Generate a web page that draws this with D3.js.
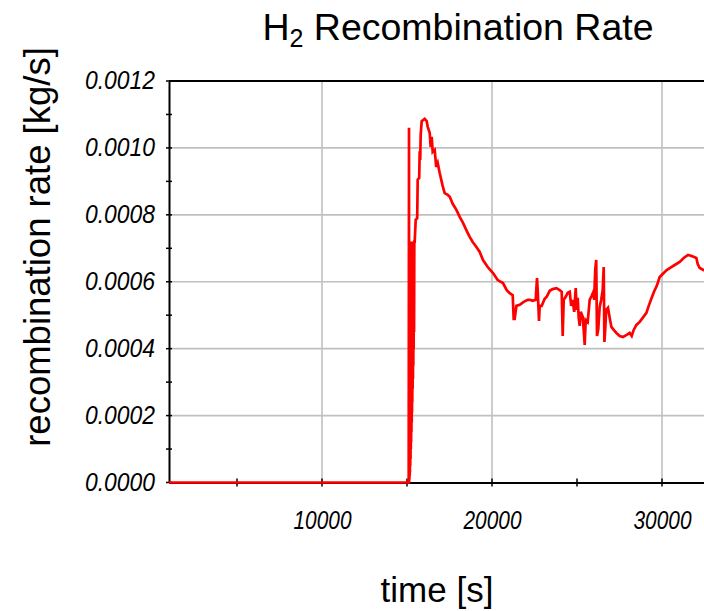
<!DOCTYPE html>
<html>
<head>
<meta charset="utf-8">
<script src="https://cdn.jsdelivr.net/npm/d3@7"></script>
<style>
  html, body { margin: 0; padding: 0; background: #fff; }
  svg { display: block; }
  text { font-family: "Liberation Sans", Arial, sans-serif; }
</style>
</head>
<body>
<div id="chart"></div>
<script>
// ---- data ----
const times = [
  1000, 5000, 10000, 15100,
  15118, 15125, 15135, 15142, 15150, 15158, 15165, 15172, 15180, 15190, 15200, 15208,
  15215, 15225, 15235, 15242, 15250, 15260, 15270, 15278, 15285, 15295, 15305, 15312,
  15320, 15332, 15345, 15352, 15360, 15372, 15385, 15392, 15400, 15415, 15430, 15453,
  15512, 15600, 15629, 15718, 15747, 15776, 15806, 15865, 16041, 16159, 16218, 16335,
  16394, 16453, 16512, 16629, 16718, 16806, 16924, 17100, 17218, 17394, 17512, 17688,
  17906, 18100, 18294, 18512, 18688, 18865, 19082, 19276, 19471, 19747, 20059, 20335,
  20647, 20865, 21041, 21218, 21276, 21335, 21435, 21629, 21865, 22100, 22218, 22394,
  22571, 22647, 22688, 22765, 22806, 22924, 23100, 23218, 23394, 23571, 23788, 23982,
  24100, 24159, 24218, 24335, 24453, 24571, 24659, 24747, 24835, 24924, 24982, 25041,
  25100, 25159, 25218, 25335, 25394, 25453, 25512, 25629, 25747, 25865, 25941, 26012,
  26071, 26130, 26176, 26247, 26335, 26424, 26512, 26571, 26612, 26659, 26718, 26824,
  26924, 27024, 27159, 27318, 27512, 27706, 27924, 28100, 28218, 28335, 28494, 28688,
  28865, 29082, 29218, 29394, 29571, 29688, 29865, 30100, 30276, 30453, 30747, 31041,
  31276, 31529, 31747, 32023, 32100, 32218, 32453, 32800
];
const rates = [
  0, 0, 0, 0,
  0.00106, 0, 0.00072, 0.00001, 0.00071, 0.00002, 0.00072, 0.00003, 0.00071, 0.00005, 0.00072, 0.00007,
  0.00071, 0.0001, 0.00072, 0.00012, 0.00071, 0.00015, 0.00072, 0.00018, 0.00071, 0.00021, 0.00072, 0.00024,
  0.00071, 0.00028, 0.00072, 0.00031, 0.00071, 0.00035, 0.00072, 0.0004, 0.00071, 0.00045, 0.00072, 0.00072,
  0.000785, 0.00079, 0.000905, 0.00091, 0.00099, 0.000964, 0.00104, 0.00108, 0.001087, 0.00108, 0.001063, 0.001045,
  0.001003, 0.001033, 0.000988, 0.000994, 0.000943, 0.000955, 0.000925, 0.000886, 0.000865, 0.00086, 0.000854, 0.000833,
  0.000815, 0.000794, 0.000776, 0.000752, 0.000734, 0.000719, 0.000704, 0.000689, 0.000665, 0.000644, 0.000626, 0.000605,
  0.000596, 0.000575, 0.000566, 0.00056, 0.000489, 0.000489, 0.000528, 0.000531, 0.00054, 0.000546, 0.000546, 0.000543,
  0.000546, 0.000611, 0.000575, 0.000483, 0.000528, 0.000528, 0.000549, 0.000555, 0.000573, 0.000578, 0.000581, 0.000575,
  0.00057, 0.000438, 0.000546, 0.000555, 0.000567, 0.00057, 0.000528, 0.000546, 0.00051, 0.000581, 0.000516, 0.000552,
  0.000492, 0.000468, 0.00051, 0.000495, 0.000456, 0.000411, 0.000486, 0.00048, 0.000546, 0.000558, 0.000567, 0.000546,
  0.000635, 0.000665, 0.000438, 0.000456, 0.000525, 0.000546, 0.000575, 0.000644, 0.00042, 0.000456, 0.000516, 0.000522,
  0.000492, 0.000465, 0.000456, 0.000447, 0.000438, 0.000435, 0.000441, 0.000447, 0.000438, 0.000456, 0.000471, 0.00048,
  0.000492, 0.000507, 0.000528, 0.000552, 0.000575, 0.000587, 0.000614, 0.000626, 0.000635, 0.000641, 0.00065, 0.000659,
  0.000671, 0.00068, 0.000677, 0.000671, 0.000653, 0.000641, 0.000635, 0.000635
];
const yTickValues = [0, 0.0002, 0.0004, 0.0006, 0.0008, 0.0010, 0.0012];
const yTickLabels = ["0.0000", "0.0002", "0.0004", "0.0006", "0.0008", "0.0010", "0.0012"];
const yMinorTicks = [0.0001, 0.0003, 0.0005, 0.0007, 0.0009, 0.0011];
const xTickValues = [10000, 20000, 30000];
const xTickLabels = ["10000", "20000", "30000"];
const xMinorTicks = [5000, 15000, 25000];
const titleMain = "H";
const titleSub = "2";
const titleRest = " Recombination Rate";
const xTitle = "time [s]";
const yTitle = "recombination rate [kg/s]";

// ---- chart ----
const W = 704, H = 611;
const svg = d3.select("#chart").append("svg").attr("width", W).attr("height", H);

const x = d3.scaleLinear().domain([1000, 35000]).range([169, 747]);
const y = d3.scaleLinear().domain([0, 0.0012]).range([482.5, 81]);

// gridlines
const grid = svg.append("g");
grid.selectAll("line.hg").data(yTickValues.filter(v => v > 0 && v < 0.0012)).join("line")
  .attr("x1", x(1000)).attr("x2", x(35000))
  .attr("y1", d => y(d)).attr("y2", d => y(d))
  .attr("stroke", "#c0c0c0").attr("stroke-width", 1.6);
grid.selectAll("line.vg").data(xTickValues).join("line")
  .attr("x1", d => x(d)).attr("x2", d => x(d))
  .attr("y1", y(0)).attr("y2", y(0.0012))
  .attr("stroke", "#c0c0c0").attr("stroke-width", 1.6);

// plot border (top + right)
svg.append("line").attr("x1", x(1000)).attr("x2", x(35000))
  .attr("y1", y(0.0012)).attr("y2", y(0.0012)).attr("stroke", "#000").attr("stroke-width", 2);
svg.append("line").attr("x1", x(35000)).attr("x2", x(35000))
  .attr("y1", y(0.0012)).attr("y2", y(0)).attr("stroke", "#000").attr("stroke-width", 2);

// y axis
const yAxis = d3.axisLeft(y).tickValues(yTickValues).tickSize(0).tickPadding(14)
  .tickFormat((d, i) => yTickLabels[i]);
const gy = svg.append("g").attr("transform", `translate(${x(1000)},0)`).call(yAxis);
gy.select(".domain").attr("stroke", "#000").attr("stroke-width", 2);
gy.selectAll("text").attr("font-size", 25).attr("font-style", "italic")
  .attr("textLength", 70).attr("lengthAdjust", "spacingAndGlyphs").attr("fill", "#000")
  .attr("dy", "0.3em")
  .attr("font-family", "'Liberation Sans', Arial, sans-serif");
svg.append("g").selectAll("line").data(yTickValues.concat(yMinorTicks)).join("line")
  .attr("x1", x(1000) - 3).attr("x2", x(1000) + 3)
  .attr("y1", d => y(d)).attr("y2", d => y(d))
  .attr("stroke", "#000").attr("stroke-width", 1.5);

// x axis
const xAxis = d3.axisBottom(x).tickValues(xTickValues).tickSize(0).tickPadding(29)
  .tickFormat((d, i) => xTickLabels[i]);
const gx = svg.append("g").attr("transform", `translate(0,${y(0)})`).call(xAxis);
gx.select(".domain").attr("stroke", "#000").attr("stroke-width", 2);
gx.selectAll("text").attr("font-size", 25).attr("font-style", "italic")
  .attr("textLength", 58).attr("lengthAdjust", "spacingAndGlyphs").attr("fill", "#000")
  .attr("font-family", "'Liberation Sans', Arial, sans-serif");
svg.append("g").selectAll("line").data(xTickValues.concat(xMinorTicks)).join("line")
  .attr("x1", d => x(d)).attr("x2", d => x(d))
  .attr("y1", y(0) - 4).attr("y2", y(0) + 4)
  .attr("stroke", "#000").attr("stroke-width", 1.5);

// data line
const line = d3.line().x((d, i) => x(times[i])).y((d, i) => y(rates[i]));
svg.append("path").datum(rates)
  .attr("d", line)
  .attr("fill", "none").attr("stroke", "#ff0000").attr("stroke-width", 2.7)
  .attr("stroke-linejoin", "miter");

// titles
const t = svg.append("text").attr("x", 458).attr("y", 40).attr("text-anchor", "middle")
  .attr("font-size", 37.5).attr("fill", "#000");
t.append("tspan").text(titleMain);
t.append("tspan").attr("font-size", 25).attr("dy", 7).text(titleSub);
t.append("tspan").attr("dy", -7).text(titleRest);

svg.append("text").attr("x", 437).attr("y", 602).attr("text-anchor", "middle")
  .attr("font-size", 35).attr("fill", "#000").text(xTitle);

svg.append("text").attr("transform", "translate(50,247) rotate(-90)")
  .attr("text-anchor", "middle").attr("font-size", 36.5).attr("fill", "#000").text(yTitle);
</script>
</body>
</html>
